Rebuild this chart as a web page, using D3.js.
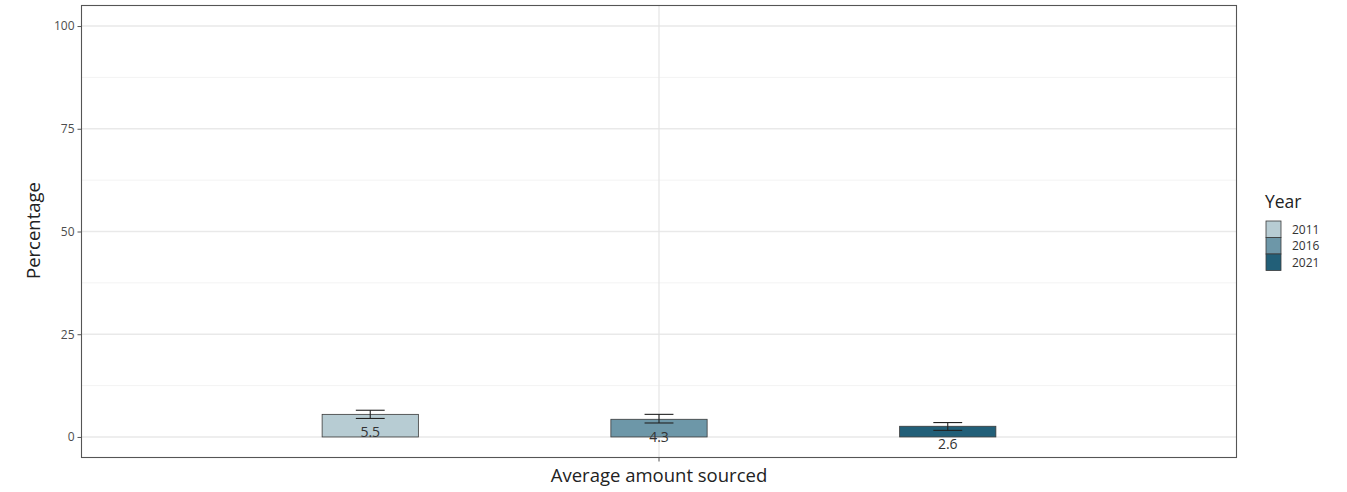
<!DOCTYPE html>
<html><head><meta charset="utf-8">
<script src="https://cdn.jsdelivr.net/npm/d3@7"></script>
<style>body{margin:0;background:#fff;} svg{display:block;font-family:"Open Sans",Lato,sans-serif;}</style>
</head><body>
<svg id="c" width="1347" height="492"></svg>
<script>
const category = "Average amount sourced";
const years = ["2011", "2016", "2021"];
const values = [5.5, 4.3, 2.6];
const errLow = [4.5, 3.4, 1.6];
const errHigh = [6.5, 5.5, 3.5];
const colors = ["#b7ccd3", "#6d97a8", "#225f78"];
const yTicks = [0, 25, 50, 75, 100];
const yMinor = [12.5, 37.5, 62.5, 87.5];

const svg = d3.select("#c");
const L = 81.5, R = 1236.5, T = 5.5, B = 457.5;
const y = d3.scaleLinear().domain([-5, 105]).range([B, T]);
const x = d3.scaleLinear().domain([0.4, 1.6]).range([L, R]);
const dodge = 0.9, barW = 0.1, errW = 0.03;
const slot = dodge / years.length;
const cx = i => 1 - dodge / 2 + slot * (i + 0.5);

const g = svg.append("g");
g.selectAll(".mn").data(yMinor).join("line")
  .attr("x1", L).attr("x2", R).attr("y1", d => y(d)).attr("y2", d => y(d))
  .attr("stroke", "#f3f3f3").attr("stroke-width", 1);
g.selectAll(".mj").data(yTicks).join("line")
  .attr("x1", L).attr("x2", R).attr("y1", d => y(d)).attr("y2", d => y(d))
  .attr("stroke", "#e9e9e9").attr("stroke-width", 1.5);
g.append("line").attr("x1", x(1)).attr("x2", x(1)).attr("y1", T).attr("y2", B)
  .attr("stroke", "#e5e5e5").attr("stroke-width", 1.2);

g.selectAll(".bar").data(values).join("rect")
  .attr("x", (d, i) => x(cx(i) - barW / 2))
  .attr("width", (d, i) => x(cx(i) + barW / 2) - x(cx(i) - barW / 2))
  .attr("y", d => y(d)).attr("height", d => y(0) - y(d))
  .attr("fill", (d, i) => colors[i]).attr("stroke", "#3a3a3a").attr("stroke-width", 0.8);

values.forEach((v, i) => {
  const x0 = x(cx(i) - errW / 2), x1 = x(cx(i) + errW / 2), xm = x(cx(i));
  const eg = g.append("g").attr("stroke", "#222").attr("stroke-width", 1.1);
  eg.append("line").attr("x1", x0).attr("x2", x1).attr("y1", y(errHigh[i])).attr("y2", y(errHigh[i]));
  eg.append("line").attr("x1", x0).attr("x2", x1).attr("y1", y(errLow[i])).attr("y2", y(errLow[i]));
  eg.append("line").attr("x1", xm).attr("x2", xm).attr("y1", y(errHigh[i])).attr("y2", y(errLow[i]));
});

g.selectAll(".lab").data(values).join("text")
  .attr("x", (d, i) => x(cx(i))).attr("y", d => y(d) + 23)
  .attr("text-anchor", "middle").attr("font-size", 14).attr("fill", "#333")
  .text(d => d.toFixed(1));

svg.append("rect").attr("x", L).attr("y", T).attr("width", R - L).attr("height", B - T)
  .attr("fill", "none").attr("stroke", "#555").attr("stroke-width", 1.1);

const ya = svg.append("g").attr("transform", `translate(${L},0)`)
  .call(d3.axisLeft(y).tickValues(yTicks).tickSize(4).tickPadding(3));
ya.select(".domain").remove();
ya.selectAll("line").attr("stroke", "#555");
ya.selectAll("text").attr("font-size", 12).attr("fill", "#4d4d4d").attr("font-family", "'Open Sans',sans-serif");

const xa = svg.append("g").attr("transform", `translate(0,${B})`);
xa.append("line").attr("x1", x(1)).attr("x2", x(1)).attr("y1", 0).attr("y2", 4).attr("stroke", "#555");
svg.append("text").attr("x", x(1)).attr("y", 482).attr("text-anchor", "middle")
  .attr("font-size", 18.5).attr("fill", "#222").text(category);
svg.append("text").attr("transform", `translate(40,${(T + B) / 2 - 1}) rotate(-90)`)
  .attr("text-anchor", "middle").attr("font-size", 18.5).attr("fill", "#222").text("Percentage");

const lg = svg.append("g").attr("transform", "translate(1265,0)");
lg.append("text").attr("x", 0).attr("y", 208).attr("font-size", 17.5).attr("fill", "#222").text("Year");
years.forEach((yr, i) => {
  lg.append("rect").attr("x", 1).attr("y", 221 + i * 16.5).attr("width", 15).attr("height", 16.5)
    .attr("fill", colors[i]).attr("stroke", "#3a3a3a").attr("stroke-width", 0.8);
  lg.append("text").attr("x", 27).attr("y", 233.5 + i * 16.5).attr("font-size", 12)
    .attr("fill", "#333").text(yr);
});
</script>
</body></html>
